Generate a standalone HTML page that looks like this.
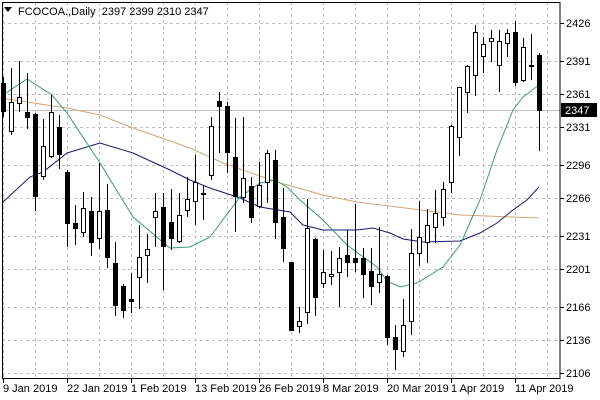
<!DOCTYPE html>
<html><head><meta charset="utf-8"><style>
html,body{margin:0;padding:0;background:#fff;}
svg{display:block;font-family:"Liberation Sans",sans-serif;font-size:11px;}
</style></head><body>
<svg id="s" width="600" height="400" xmlns="http://www.w3.org/2000/svg">
<rect width="600" height="400" fill="#fff"/>
<g id="grid" stroke="#c0c0c0" stroke-dasharray="3,3" stroke-width="1"></g>
<line x1="2" y1="110.5" x2="560" y2="110.5" stroke="#c0c0c0"/>
<polyline fill="none" stroke="#d2a679" stroke-width="1" points="0,98 67,108 100,115 133,128 190,148 223,163 277,182 323,195 357,202 413,209 460,215 539,218"/>
<polyline fill="none" stroke="#191970" stroke-width="1" points="3,202 30,177 43,172 67,153 100,143 133,153 170,170 190,180 210,188 240,198 260,207 290,212 303,225 323,230 357,230 373,228 390,233 403,239 423,242 460,241 480,233 497,223 513,210 527,200 539,187"/>
<polyline fill="none" stroke="#3c9a7a" stroke-width="1" points="3,95 27,79 52,95 67,113 100,163 133,217 170,248 190,247 210,237 240,197 260,183 275,180 287,187 300,200 323,220 347,245 377,267 387,281 400,287 417,283 443,267 460,245 480,200 497,150 513,110 523,97 539,85"/>
<g id="c"></g>
<rect x="2.5" y="2.5" width="557.5" height="376" fill="none" stroke="#000"/>
<g id="ax" fill="#000"></g>
<polygon points="4,7 12,7 8,12" fill="#000"/>
<text x="18" y="15" fill="#000">FCOCOA.,Daily&#160; 2397 2399 2310 2347</text>
<rect x="561" y="103" width="36" height="14" fill="#000"/>
<text x="565" y="114" fill="#fff">2347</text>
</svg>
<script>
var NS="http://www.w3.org/2000/svg";
function el(p,t,a,txt){var e=document.createElementNS(NS,t);for(var k in a)e.setAttribute(k,a[k]);if(txt)e.textContent=txt;p.appendChild(e);return e;}
var g=document.getElementById('grid'),ax=document.getElementById('ax'),c=document.getElementById('c');
var ticks=[[2426,23],[2391,61],[2361,94],[2331,127],[2296,165],[2266,198],[2231,236],[2201,269],[2166,307],[2136,340],[2106,373]];
ticks.forEach(function(t){el(g,'line',{x1:2,y1:t[1]+.5,x2:560,y2:t[1]+.5});el(ax,'line',{x1:560,y1:t[1]+.5,x2:564,y2:t[1]+.5,stroke:'#000'});el(ax,'text',{x:566,y:t[1]+4},String(t[0]));});
for(var k=0;k<18;k++){var x=3+32*k;el(g,'line',{x1:x+.5,y1:2,x2:x+.5,y2:378});}
var d=[[3,'9 Jan 2019'],[67,'22 Jan 2019'],[131,'1 Feb 2019'],[195,'13 Feb 2019'],[259,'26 Feb 2019'],[323,'8 Mar 2019'],[387,'20 Mar 2019'],[451,'1 Apr 2019'],[515,'11 Apr 2019']];
d.forEach(function(t){el(ax,'line',{x1:t[0]+.5,y1:378,x2:t[0]+.5,y2:383,stroke:'#000'});el(ax,'text',{x:t[0],y:392},t[1]);});
var C=[[77,83,112,117,1],[68,102,132,135,0],[61,97,104,112,0],[73,112,118,129,1],[113,114,197,211,1],[119,146,177,180,0],[95,112,157,158,0],[115,127,155,169,1],[170,172,224,247,1],[205,223,229,245,1],[192,208,233,237,0],[197,211,243,256,1],[163,211,239,249,0],[184,210,258,268,1],[242,263,306,316,1],[284,286,311,318,1],[273,299,302,313,1],[225,257,278,309,0],[234,249,256,283,0],[193,211,218,247,0],[193,207,247,290,1],[189,222,239,250,1],[193,215,242,243,0],[177,199,211,217,0],[155,182,202,225,0],[185,193,195,220,0],[117,126,176,180,0],[92,101,107,153,1],[102,106,153,173,1],[118,157,197,232,1],[117,178,198,203,0],[177,186,218,223,1],[162,185,207,208,0],[150,153,183,203,0],[150,160,223,239,1],[188,217,249,262,1],[262,262,331,331,1],[307,321,327,333,0],[199,228,313,324,0],[238,239,298,316,1],[250,272,284,288,0],[251,274,277,285,0],[247,258,273,307,0],[230,255,263,277,1],[204,258,263,272,1],[248,258,275,298,1],[248,271,287,305,1],[227,274,283,293,0],[275,276,338,345,1],[325,337,350,370,1],[299,325,352,357,0],[229,253,322,335,0],[201,237,254,266,0],[209,225,243,263,0],[190,213,228,243,0],[182,189,218,226,0],[125,126,183,193,0],[87,87,138,156,0],[65,66,93,113,0],[25,32,76,96,0],[37,44,57,73,0],[30,38,42,62,0],[30,41,66,92,0],[29,33,44,57,0],[21,32,83,86,1],[38,47,81,82,0],[34,65,67,80,1],[53,55,111,151,1]];
C.forEach(function(k,i){var x=3.5+8*i;el(c,'line',{x1:x,y1:k[0],x2:x,y2:k[3],stroke:'#000'});
if(k[4]){el(c,'rect',{x:x-2.5,y:k[1],width:5,height:Math.max(2,k[2]-k[1]),fill:'#000'});}
else{el(c,'rect',{x:x-2,y:k[1]+.5,width:4,height:Math.max(1,k[2]-k[1]-1),fill:'#fff',stroke:'#000'});}});
</script>
</body></html>
